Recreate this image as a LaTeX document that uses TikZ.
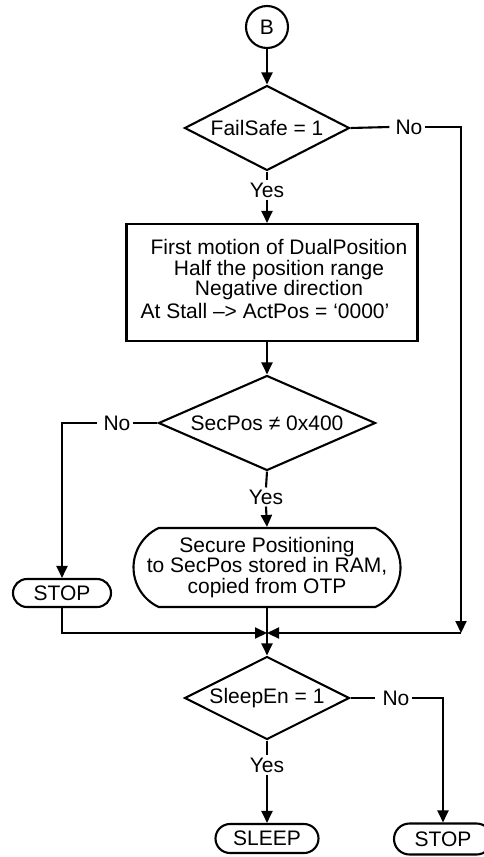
\documentclass[tikz,border=0pt]{standalone}
\usepackage{fontspec}
\setmainfont{Liberation Sans}
\usetikzlibrary{shapes.geometric,shapes.misc,arrows.meta}
\begin{document}
\begin{tikzpicture}[x=1pt,y=-1pt,
  font=\fontsize{21}{20.5}\selectfont,
  ln/.style={line width=2.1pt},
  arr/.style={line width=2.1pt,-{Triangle[length=12pt,width=11pt]}},
  dec/.style={draw,diamond,line width=2.1pt,inner sep=0pt,aspect=2},
  proc/.style={draw,rectangle,line width=2.1pt,inner sep=0pt},
  term/.style={draw,rounded rectangle,line width=2.1pt,inner sep=0pt,align=center},
  circ/.style={draw,circle,line width=2.1pt,inner sep=0pt,minimum size=42pt},
  lbl/.style={inner sep=2pt},
  txt/.style={inner sep=0pt,align=center}]
\useasboundingbox (0,0) rectangle (484,857);

% nodes
\node[circ] (B) at (267,27) {B};
\node[dec,minimum width=165pt,minimum height=85pt] (d1) at (267,128) {FailSafe = 1};
\node[lbl] (y1) at (267,190) {Yes};
\node[lbl] (n1) at (409,127) {No};
\coordinate (c2) at (461,633);

\node[proc,minimum width=291pt,minimum height=117pt] (box) at (272,282.5) {};
\node[txt] (bt1) at (279,270) {First motion of DualPosition\\Half the position range\\Negative direction};
\node[txt] (bt2) at (265,311) {At Stall –> ActPos = ‘0000’};

\node[dec,minimum width=217pt,minimum height=95pt] (d2) at (267,423) {SecPos ≠ 0x400};
\node[lbl] (n2) at (117,423) {No};
\node[lbl] (y2) at (266,497) {Yes};

\node[term,minimum width=267pt,minimum height=79pt,rounded rectangle arc length=130] (rr) at (267,567.5)
  {Secure Positioning\\to SecPos stored in RAM,\\copied from OTP};
\node[term,minimum width=98pt,minimum height=28pt] (s1) at (62,593) {STOP};
\coordinate (m) at (267,633);

\node[dec,minimum width=165pt,minimum height=83pt] (d3) at (267,698) {SleepEn = 1};
\node[lbl] (n3) at (396,698) {No};
\node[lbl] (y3) at (267,765) {Yes};
\node[term,minimum width=103pt,minimum height=29pt] (sl) at (267,838.5) {SLEEP};
\node[term,minimum width=98pt,minimum height=31pt] (s2) at (443,839) {STOP};

% connectors
\draw[arr] (B) -- (d1);
\draw[ln] (d1.south) -- (y1.north);
\draw[arr] (y1.south) -- (box.north -| y1.south);
\draw[ln] (d1.east) -- ([xshift=-4pt]n1.west);
\draw[arr] (n1.east) -| (c2);
\draw[arr] (c2) -- (m);

\draw[arr] (box.south -| d2.north) -- (d2.north);
\draw[ln] (d2.west) -- (n2.east);
\draw[arr] ([xshift=-4pt]n2.west) -| (s1.north);
\draw[ln] (d2.south) -- (y2.north);
\draw[arr] (y2.south) -- (rr.north);

\draw[arr] (s1.south) |- (m);
\draw[arr] (rr.south) -- (d3.north);

\draw[ln] (d3.east) -- ([xshift=-5pt]n3.west);
\draw[arr] (n3.east) -| (s2.north);
\draw[ln] (d3.south) -- (y3.north);
\draw[arr] (y3.south) -- (sl.north);
\end{tikzpicture}
\end{document}
